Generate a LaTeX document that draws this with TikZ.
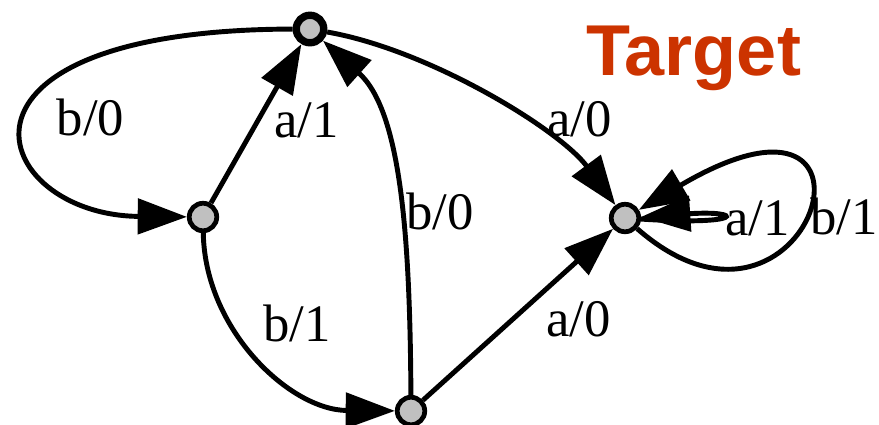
\documentclass[tikz,border=0pt]{standalone}
\usepackage{fontspec}
\setmainfont{Liberation Serif}
\newfontfamily\titlefont{Liberation Sans}
\usetikzlibrary{arrows.meta}
\definecolor{stategray}{RGB}{192,192,192}
\definecolor{targetred}{RGB}{204,51,0}

\begin{document}
\begin{tikzpicture}[x=0.02cm,y=-0.02cm,
  state/.style={draw,circle,fill=stategray,line width=2.7pt,minimum size=0.55cm,inner sep=0pt},
  trans/.style={line width=2.8pt,-{Triangle[length=28pt,width=20pt]}},
  lbl/.style={font=\fontsize{30}{34}\selectfont,inner sep=2pt}]
  \useasboundingbox (0,0) rectangle (879,424);
  \node[state,line width=4.2pt] (S0) at (310,29) {};
  \node[state] (S1) at (203,217) {};
  \node[state] (S2) at (625,218) {};
  \node[state] (S3) at (411,411) {};
  \node[text=targetred,anchor=base west,
    font=\titlefont\bfseries\fontsize{41}{48}\selectfont] (title) at (580,75) {Target};
  \draw[trans] (S0) .. controls (-80,30) and (-10,215) .. (S1)
    node[lbl,pos=0.45,right=12pt,yshift=-5pt] {b/0};
  \draw[trans] (S1) -- (S0) node[lbl,pos=0.52,right=6pt] {a/1};
  \draw[trans] (S0) .. controls (430,50) and (560,130) .. (S2)
    node[lbl,pos=0.7,above right,xshift=-4pt,yshift=-3pt] {a/0};
  \draw[trans] (S3) .. controls (410,230) and (400,110) .. (S0)
    node[lbl,pos=0.42,right] {b/0};
  \draw[trans] (S1) .. controls (205,330) and (290,410) .. (S3)
    node[lbl,pos=0.45,above right,xshift=4pt] {b/1};
  \draw[trans] (S3) -- (S2) node[lbl,pos=0.6,below right,yshift=1pt,xshift=2pt] {a/0};
  \draw[trans] (S2) .. controls (745,226) and (745,210) .. (S2)
    node[lbl,pos=0.5,right=0pt] {a/1};
  \draw[trans] (S2) .. controls (810,380) and (910,50) .. (S2)
    node[lbl,pos=0.5,right=0pt] {b/1};
\end{tikzpicture}
\end{document}
